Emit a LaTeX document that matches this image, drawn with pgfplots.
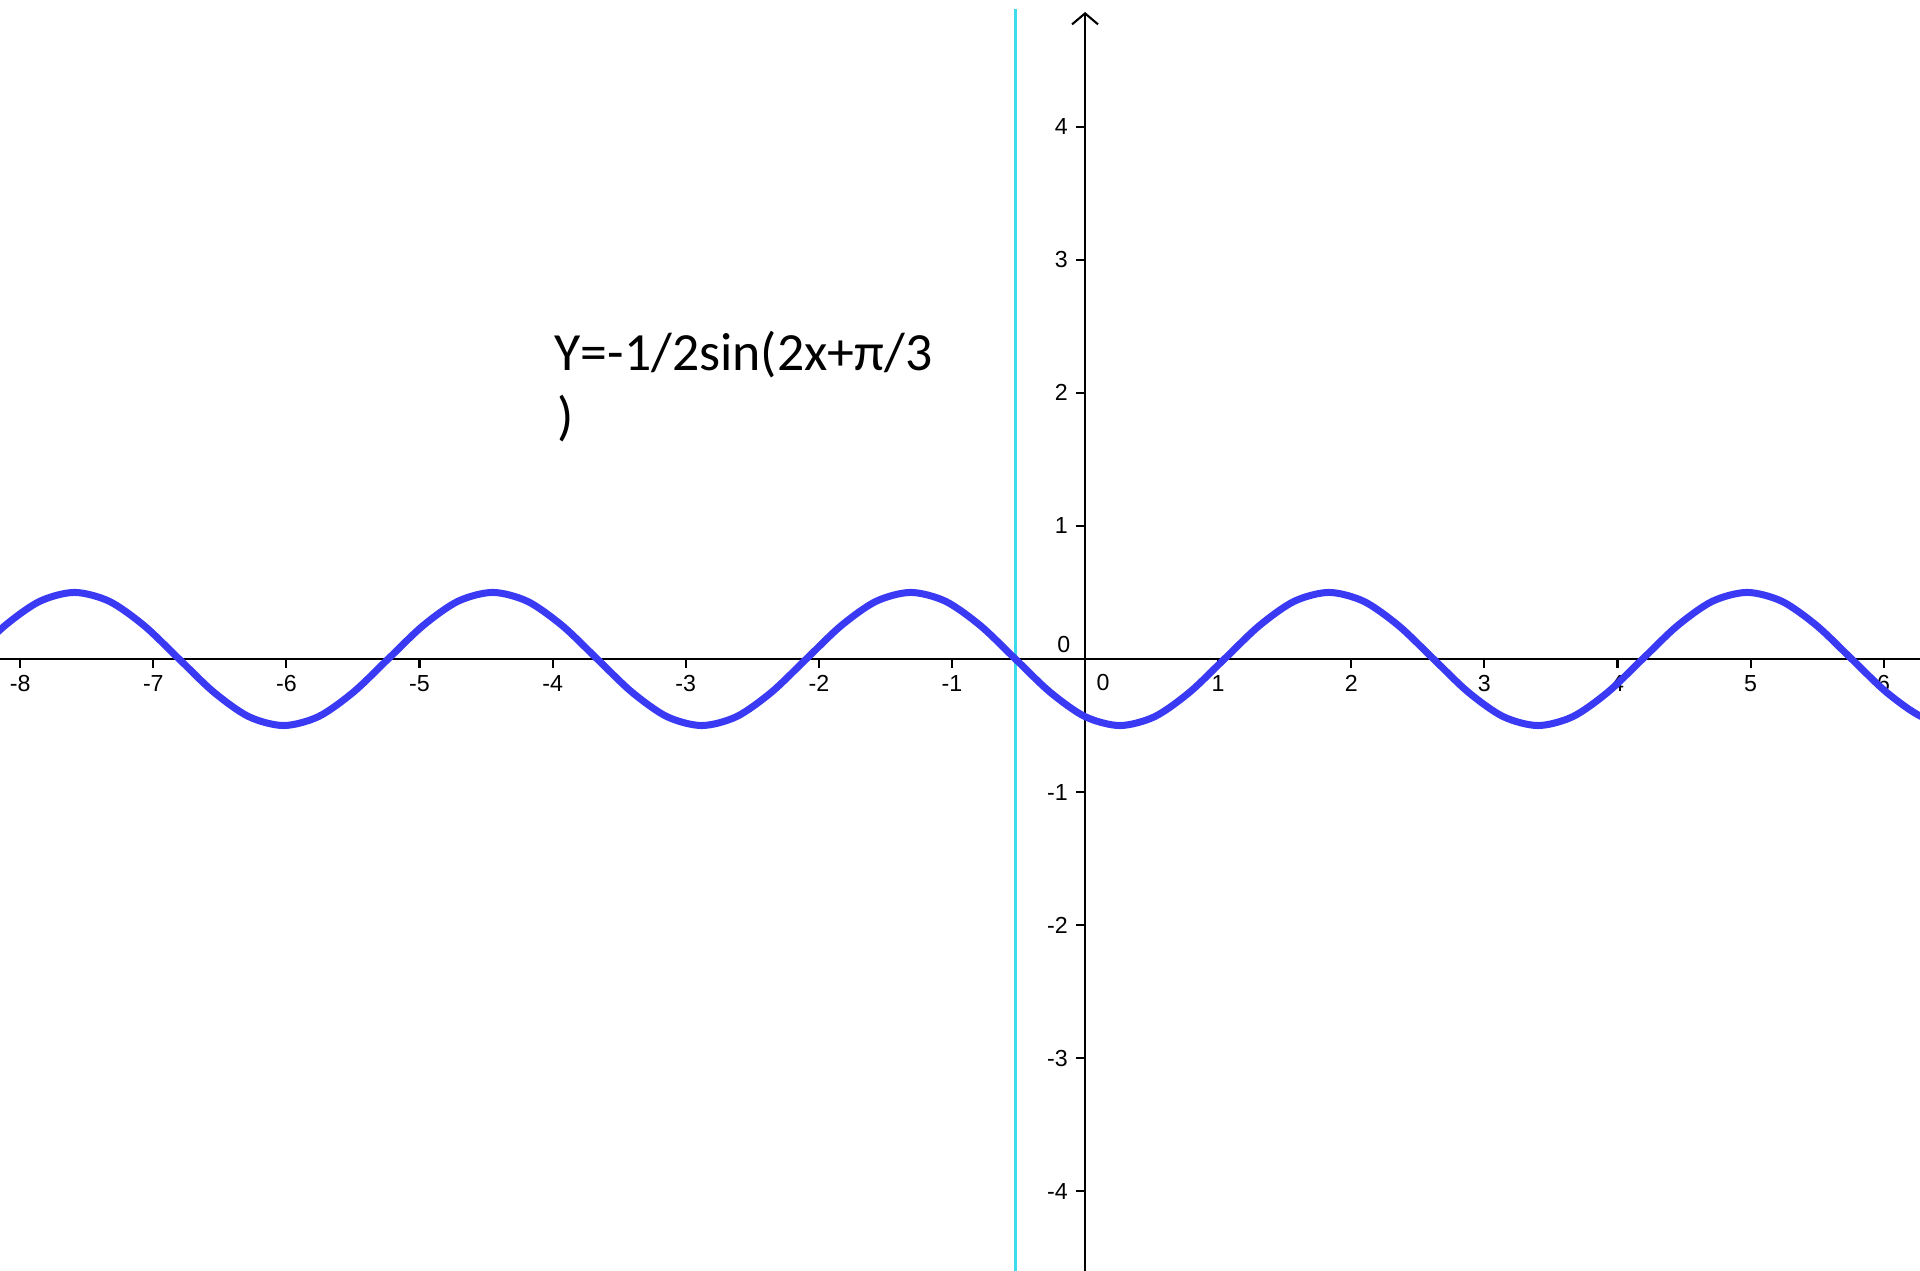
\documentclass[border=0pt]{standalone}
\usepackage{pgfplots}
\pgfplotsset{compat=1.18}
\usepackage{fontspec}
\setmainfont{Liberation Sans}
\newfontfamily\calibri{Carlito}
\usetikzlibrary{arrows.meta}
\definecolor{curveblue}{RGB}{58,58,245}
\definecolor{vcyan}{RGB}{60,220,235}

\begin{document}
\begin{tikzpicture}
\begin{axis}[
  x=1.331cm, y=1.331cm,
  xmin=-8.152, xmax=6.273,
  ymin=-4.598, ymax=4.951,
  axis lines=middle,
  axis line style={line width=0.6pt, black},
  x axis line style={-},
  y axis line style={-{Straight Barb[length=1.1mm,width=2.6mm,line width=0.6pt]}, shorten >=1.2mm},
  tick align=outside,
  major tick length=0.09cm,
  tick style={line width=0.6pt, black},
  xtick={-8,-7,-6,-5,-4,-3,-2,-1,1,2,3,4,5,6},
  xticklabels={-8,-7,-6,-5,-4,-3,-2,-1,1,2,3,4,5,6},
  ytick={-4,-3,-2,-1,1,2,3,4},
  yticklabels={-4,-3,-2,-1,1,2,3,4},
  ticklabel style={font=\fontsize{6.6}{7}\selectfont},
  xticklabel style={yshift=1.4pt},
  yticklabel style={xshift=1.2pt},
  xlabel={}, ylabel={},
  clip=true,
]
  \coordinate (sw) at (rel axis cs:0,0);
  \coordinate (ne) at (rel axis cs:1,1);

  % vertical line x = -pi/6
  \addplot[vcyan, line width=0.8pt] coordinates {(-0.5236,-4.598) (-0.5236,4.88)};

  % y = -1/2 sin(2x + pi/3)
  \addplot[curveblue, line width=2pt, smooth] coordinates {
    (-8.3776,0) (-8.1158,0.25) (-7.8540,0.4330) (-7.5922,0.5) (-7.3304,0.4330) (-7.0686,0.25)
    (-6.8068,0) (-6.5450,-0.25) (-6.2832,-0.4330) (-6.0214,-0.5) (-5.7596,-0.4330) (-5.4978,-0.25)
    (-5.2360,0) (-4.9742,0.25) (-4.7124,0.4330) (-4.4506,0.5) (-4.1888,0.4330) (-3.9270,0.25)
    (-3.6652,0) (-3.4034,-0.25) (-3.1416,-0.4330) (-2.8798,-0.5) (-2.6180,-0.4330) (-2.3562,-0.25)
    (-2.0944,0) (-1.8326,0.25) (-1.5708,0.4330) (-1.3090,0.5) (-1.0472,0.4330) (-0.7854,0.25)
    (-0.5236,0) (-0.2618,-0.25) (0,-0.4330) (0.2618,-0.5) (0.5236,-0.4330) (0.7854,-0.25)
    (1.0472,0) (1.3090,0.25) (1.5708,0.4330) (1.8326,0.5) (2.0944,0.4330) (2.3562,0.25)
    (2.6180,0) (2.8798,-0.25) (3.1416,-0.4330) (3.4034,-0.5) (3.6652,-0.4330) (3.9270,-0.25)
    (4.1888,0) (4.4506,0.25) (4.7124,0.4330) (4.9742,0.5) (5.2360,0.4330) (5.4978,0.25)
    (5.7596,0) (6.0214,-0.25) (6.2832,-0.4330) (6.5450,-0.5)
  };

  % origin labels
  \node[font=\fontsize{6.6}{7}\selectfont] at (axis cs:0.135,-0.18) {0};
  \node[font=\fontsize{6.6}{7}\selectfont] at (axis cs:-0.16,0.105) {0};

  % formula label
  \node[anchor=base west, inner sep=0pt, font=\calibri\fontsize{15.3}{18}\selectfont]
    at (axis cs:-3.99,2.171) {Y=-1/2sin(2x+π/3};
  \node[anchor=base west, inner sep=0pt, font=\calibri\fontsize{15.3}{18}\selectfont]
    at (axis cs:-3.97,1.683) {)};
\end{axis}
\pgfresetboundingbox
\path[use as bounding box] (sw) rectangle (ne);
\end{tikzpicture}
\end{document}
